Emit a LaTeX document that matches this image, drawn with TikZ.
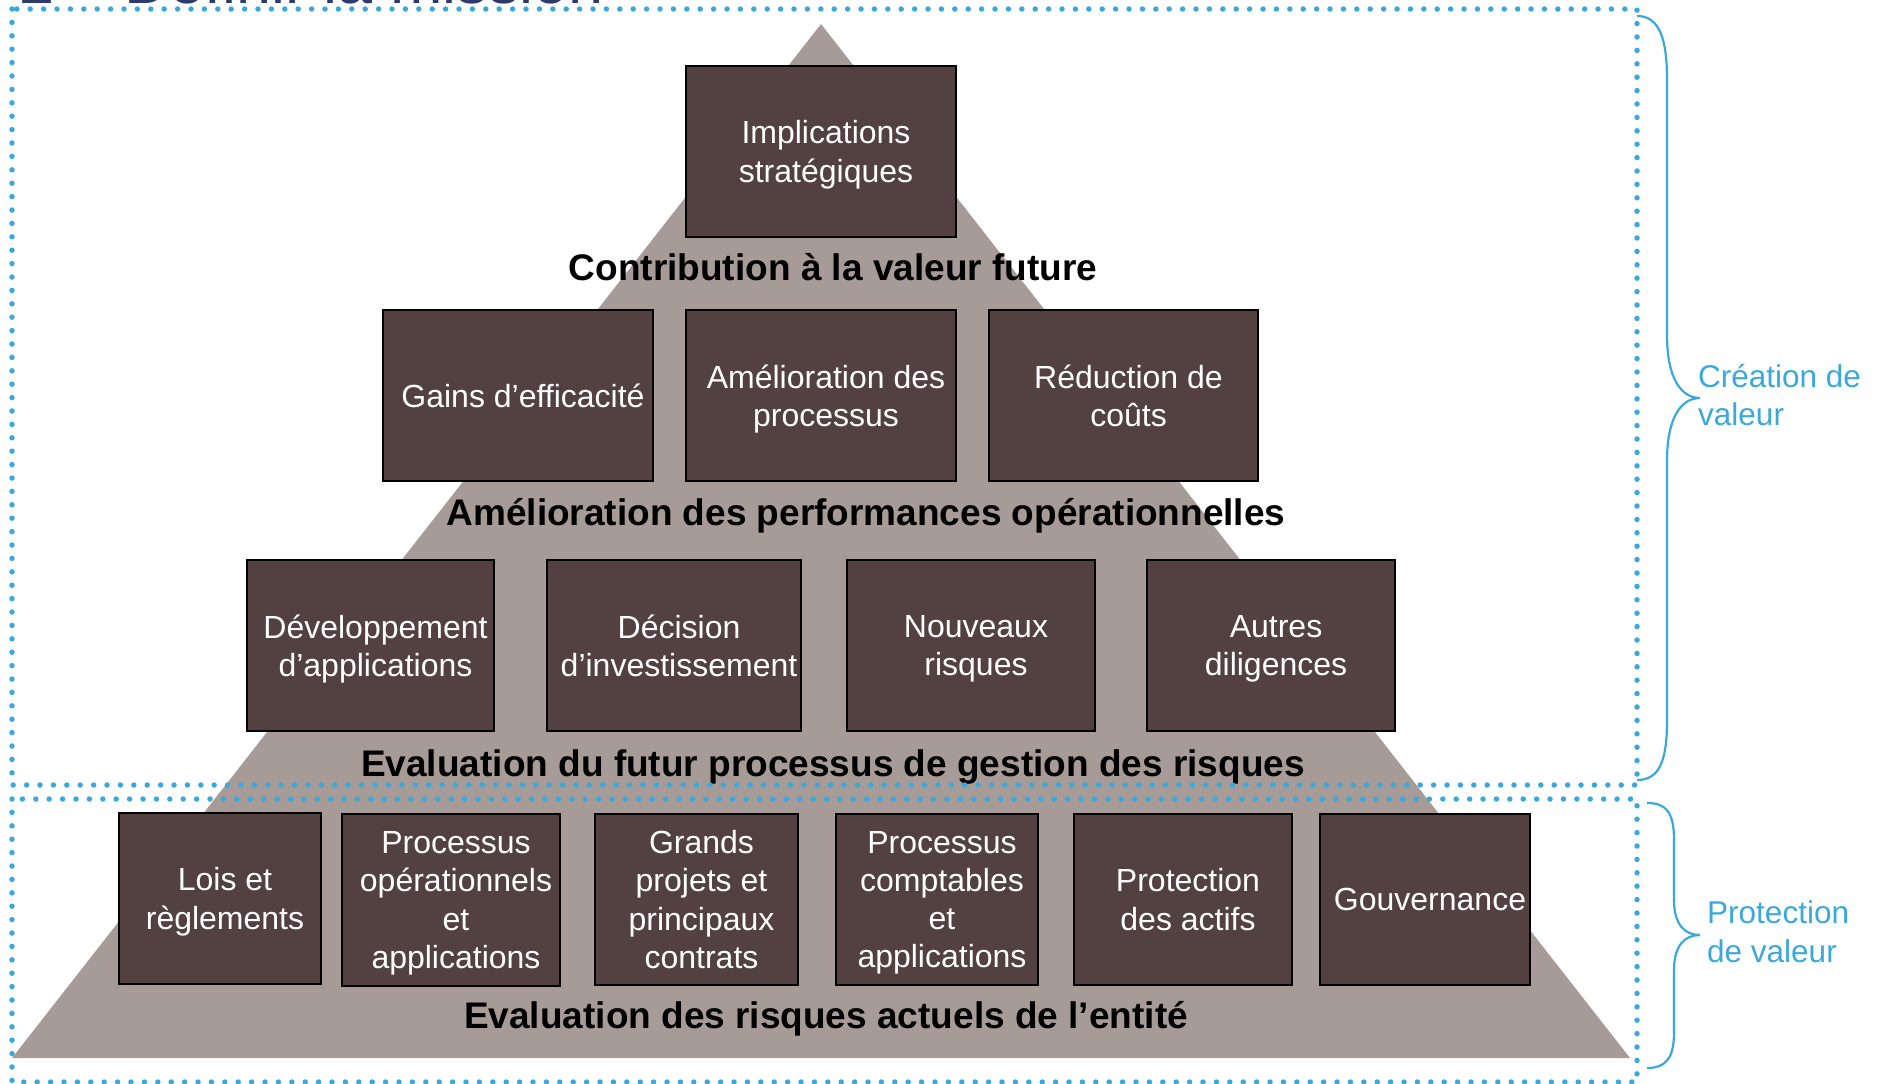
\documentclass[tikz,border=0pt]{standalone}
\usepackage{fontspec}
\setmainfont{Liberation Sans}
\definecolor{trifill}{RGB}{166,155,150}
\definecolor{boxfill}{RGB}{83,65,66}
\definecolor{dotblue}{RGB}{59,168,219}
\definecolor{navytitle}{RGB}{46,58,110}
\newcommand\mkbox[6]{%
  \node[box, minimum width={#4-#2}, minimum height={#5-#3}] (#1) at ({(#2+#4)/2},{(#3+#5)/2}) {};
  \node[boxtext] (#1t) at ([xshift=5pt,yshift=-4pt]#1.center) {#6\rule[-8pt]{0pt}{0pt}};
}
\begin{document}
\begin{tikzpicture}[x=1pt,y=-1pt,
  box/.style={draw=black, line width=2.5pt, fill=boxfill, inner sep=0pt, outer sep=0pt},
  boxtext/.style={text=white, font=\fontsize{32}{38.3}\selectfont, align=center, inner sep=0pt},
  level/.style={font=\bfseries\fontsize{37}{44}\selectfont, inner sep=0pt, anchor=base},
  dotline/.style={draw=dotblue, line width=5.5pt, line cap=round, dash pattern=on 0pt off 13.4pt},
  bracket/.style={draw=dotblue, line width=2.2pt},
  side/.style={text=dotblue, font=\fontsize{31.5}{38.5}\selectfont, align=left, inner sep=0pt, anchor=north west}
]
\useasboundingbox (0,0) rectangle (1879,1084);
\begin{scope}
  \clip (0,0) rectangle (1879,1084);
  \node[anchor=base west, inner sep=0pt, text=navytitle, font=\fontsize{63}{70}\selectfont] (title) at (19,3.5) {2 – Définir la mission};
\end{scope}

% pyramid
\fill[trifill] (821,24) -- (1630,1058) -- (12,1058) -- cycle;

% row 1
\mkbox{imp}{686}{66}{956}{237}{Implications\\stratégiques}
% row 2
\mkbox{gains}{383}{310}{653}{481}{Gains d’efficacité}
\mkbox{amel}{686}{310}{956}{481}{Amélioration des\\processus}
\mkbox{red}{989}{310}{1258}{481}{Réduction de\\coûts}
% row 3
\mkbox{dev}{247}{560}{494}{731}{Développement\\d’applications}
\mkbox{dec}{547}{560}{801}{731}{Décision\\d’investissement}
\mkbox{nouv}{847}{560}{1095}{731}{Nouveaux\\risques}
\mkbox{autres}{1147}{560}{1395}{731}{Autres\\diligences}
% row 4
\mkbox{lois}{119}{813}{321}{984}{Lois et\\règlements}
\mkbox{procop}{342}{814}{560}{986}{Processus\\opérationnels\\et\\applications}
\mkbox{grands}{595}{814}{798}{985}{Grands\\projets et\\principaux\\contrats}
\mkbox{proccomp}{836}{814}{1038}{985}{Processus\\comptables\\et\\applications}
\mkbox{prot}{1074}{814}{1292}{985}{Protection\\des actifs}
\mkbox{gouv}{1320}{814}{1530}{985}{Gouvernance}

% level labels
\node[level] (l1) at (833,280) {Contribution à la valeur future};
\node[level] (l2) at (866,525) {Amélioration des performances opérationnelles};
\node[level] (l3) at (833,776) {Evaluation du futur processus de gestion des risques};
\node[level] (l4) at (826,1028) {Evaluation des risques actuels de l’entité};

% dotted frames
\draw[dotline] (12,9) rectangle (1637,785);
\draw[dotline] (12,799) rectangle (1637,1082);

% braces
\draw[bracket] (1637,16) .. controls (1660,16) and (1667,40) .. (1667,80)
  -- (1667,335) .. controls (1667,380) and (1682,398) .. (1700,398)
  .. controls (1682,398) and (1667,416) .. (1667,461)
  -- (1667,720) .. controls (1667,760) and (1660,780) .. (1637,780);
\draw[bracket] (1647,803) .. controls (1666,803) and (1674,812) .. (1674,840)
  -- (1674,900) .. controls (1674,925) and (1685,935) .. (1700,935)
  .. controls (1685,935) and (1674,945) .. (1674,970)
  -- (1674,1032) .. controls (1674,1058) and (1666,1068) .. (1647,1068);

% side labels
\node[side] (creation) at (1698,364) {Création de\\valeur};
\node[side] (protection) at (1707,900.5) {Protection\\de valeur};
\end{tikzpicture}
\end{document}
